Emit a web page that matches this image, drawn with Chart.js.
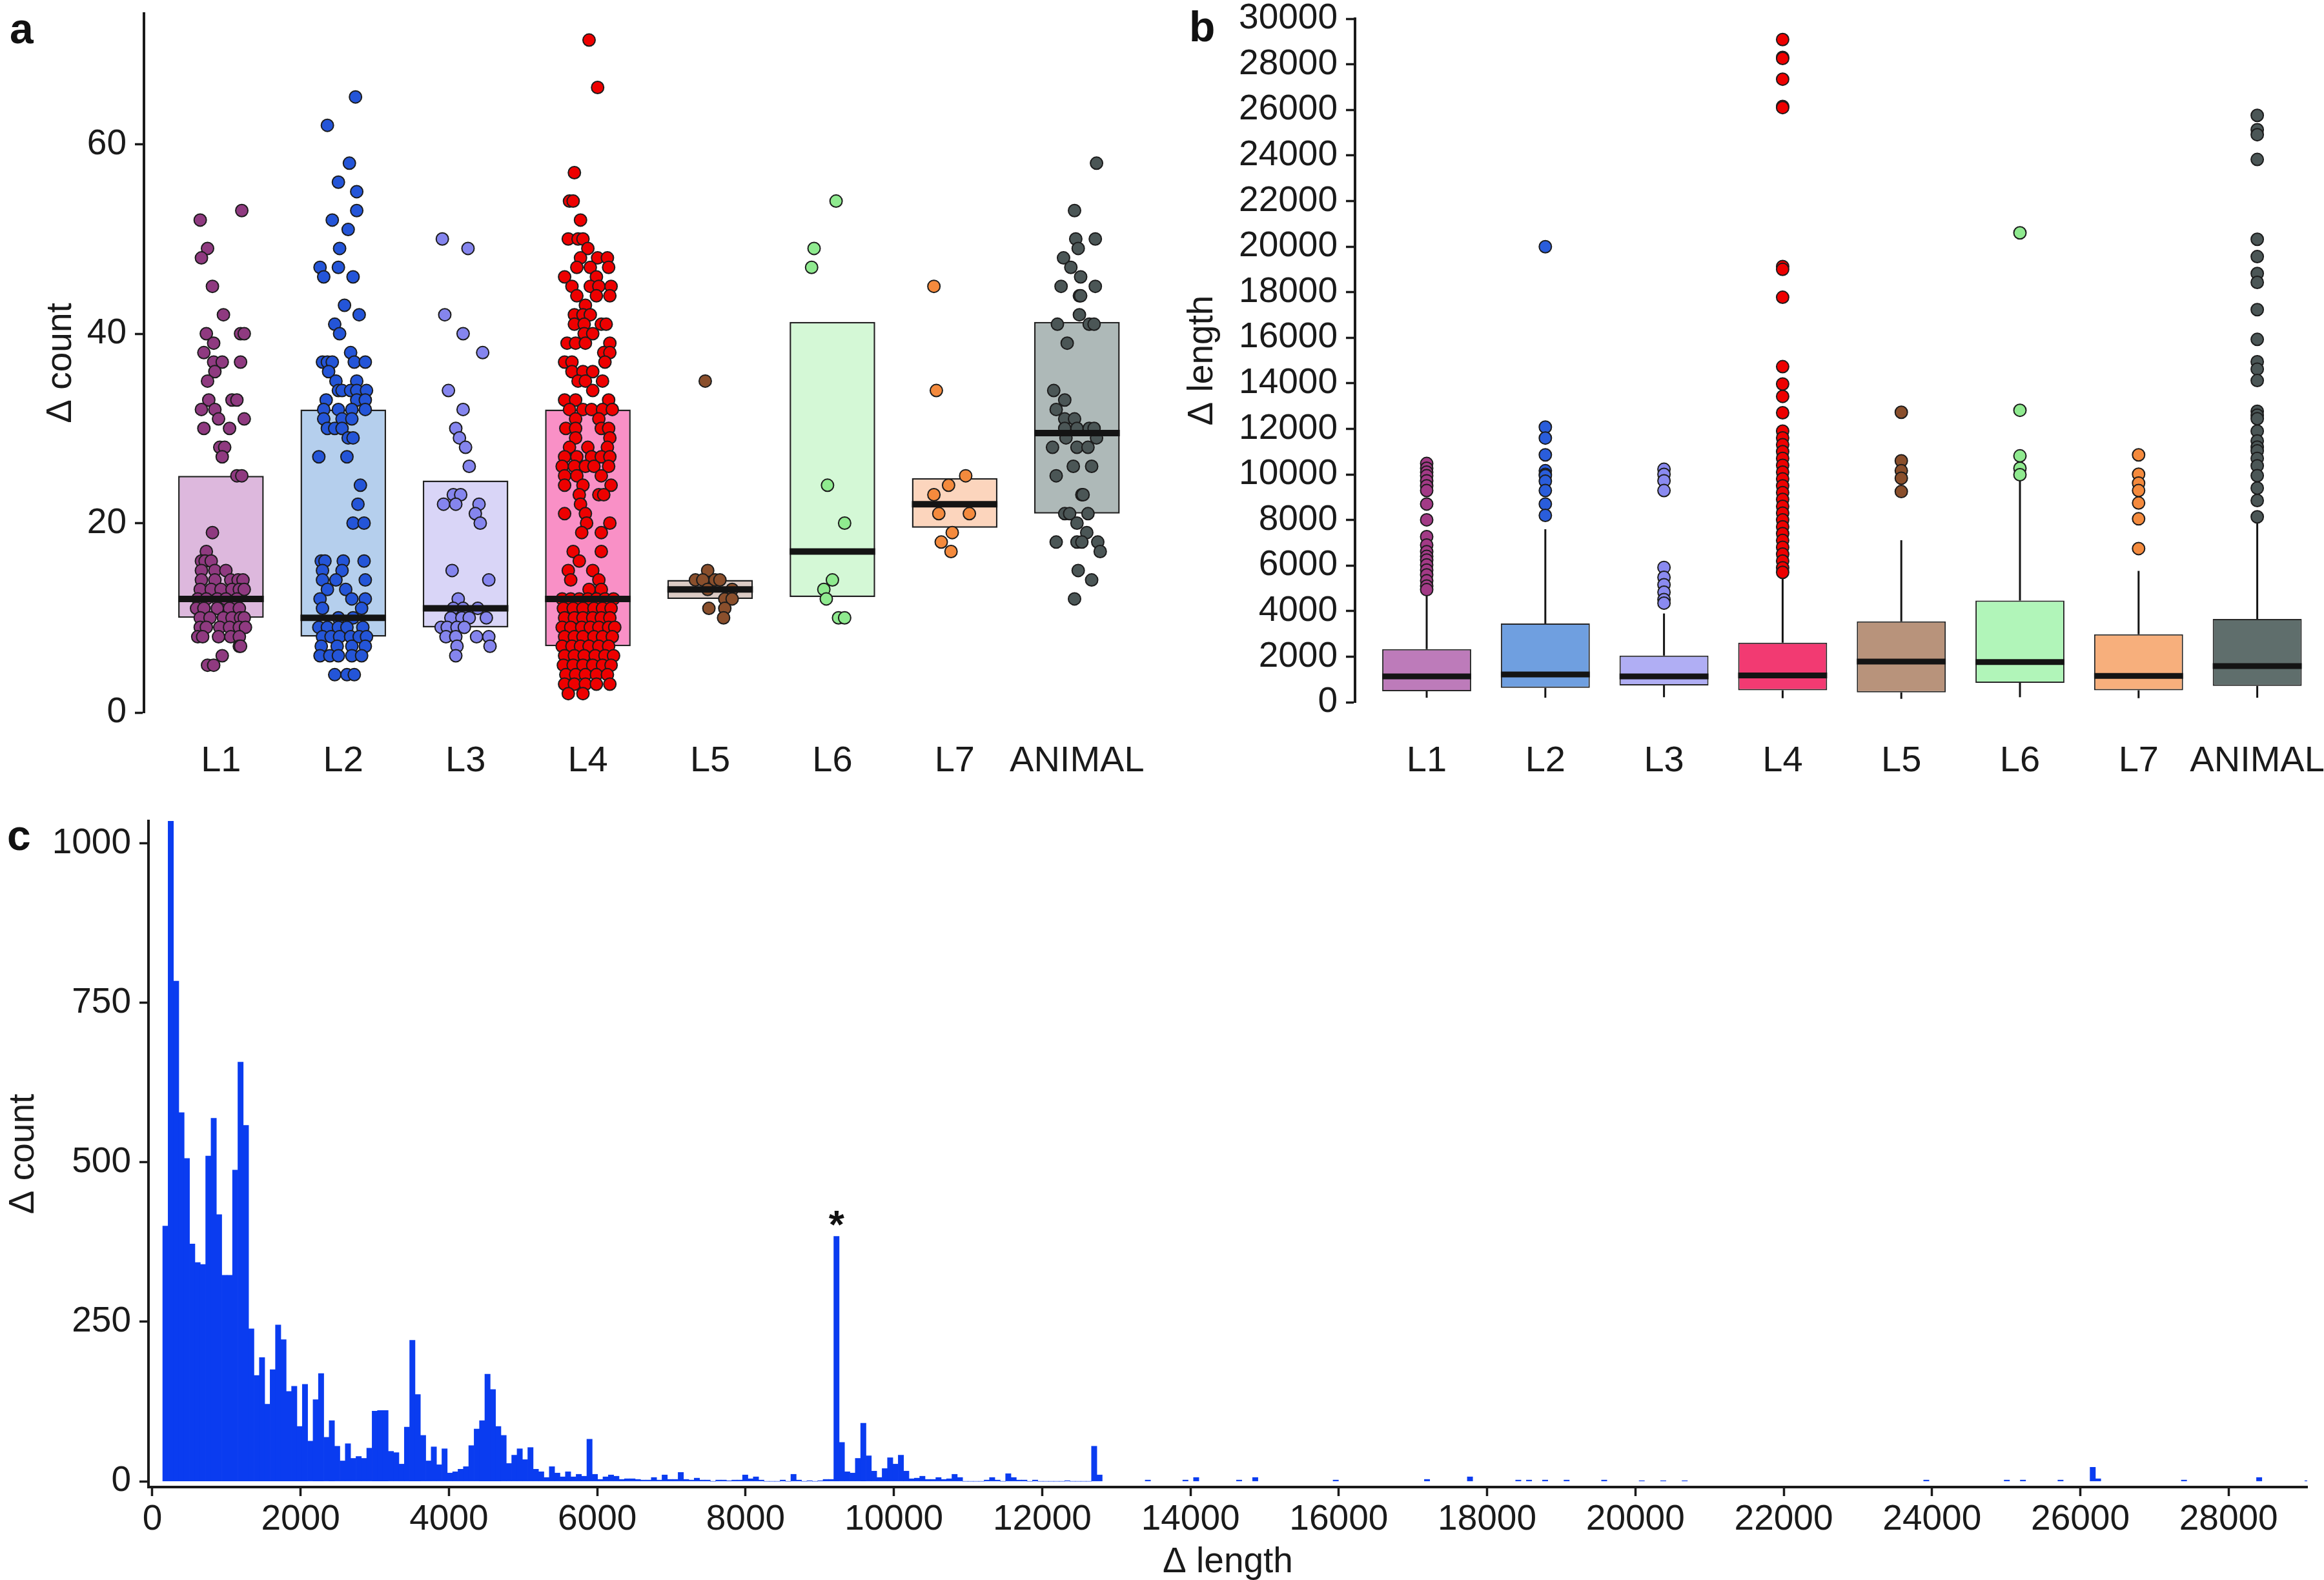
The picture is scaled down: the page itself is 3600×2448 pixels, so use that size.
<!DOCTYPE html>
<html><head><meta charset="utf-8">
<script src="https://cdn.jsdelivr.net/npm/chart.js@4.4.1/dist/chart.umd.min.js"></script>
<style>
html,body{margin:0;padding:0;background:#fff;}
#wrap{position:relative;width:3600px;height:2448px;background:#fff;overflow:hidden;font-family:"Liberation Sans",Arial,sans-serif;}
canvas{position:absolute;}
.lbl{position:absolute;font-weight:bold;font-size:66px;line-height:1;color:#111;}
</style></head><body>
<div id="wrap">
<canvas id="ca" width="1790" height="1240" style="left:0;top:0;width:1790px;height:1240px"></canvas>
<canvas id="cb" width="1810" height="1240" style="left:1790px;top:0;width:1810px;height:1240px"></canvas>
<canvas id="cc" width="3600" height="1208" style="left:0;top:1240px;width:3600px;height:1208px"></canvas>
<div class="lbl" style="left:15px;top:11px">a</div>
<div class="lbl" style="left:1842px;top:8px">b</div>
<div class="lbl" style="left:11px;top:1261px">c</div>
</div>
<script>
// ---------------- DATA ----------------
const categories = ['L1','L2','L3','L4','L5','L6','L7','ANIMAL'];

// Panel a: box statistics (Δ count)
const q1A  = [10, 8, 9, 7, 12, 12.2, 19.5, 21];
const medA = [12, 10, 11, 12, 13, 17, 22, 29.5];
const q3A  = [25, 32, 24.5, 32, 14, 41.25, 24.75, 41.25];
const yTicksA = [0, 20, 40, 60];

// Panel a: strip points, each row = [value, jitter offsets...]
const stripL1 = [[53,0.17],[52,-0.17],[49,-0.11],[48,-0.16],[45,-0.07],[42,0.02],[40,-0.12,0.16,0.19],[39,-0.06],[38,-0.14],[37,-0.06,0.01,0.16],[36,-0.05],[35,-0.11],[33,-0.10,0.09,0.13],[32,-0.16,-0.05],[31,-0.02,0.19],[30,-0.14,0.07],[28,-0.01,0.03],[27,0.01],[25,0.13,0.17],[19,-0.07],[17,-0.12],[16,-0.16,-0.13,-0.08],[15,-0.16,-0.05,0.04],[14,-0.16,-0.05,0.08,0.14,0.18],[13,-0.17,-0.08,0,0.09,0.15,0.19],[12,-0.19,-0.12,-0.03,0.04,0.13],[11,-0.20,-0.14,-0.03,0.07,0.15],[10,-0.17,-0.09,0.02,0.09,0.16,0.19],[9,-0.17,-0.12,-0.01,0.07,0.15,0.20],[8,-0.19,-0.15,-0.02,0.08,0.15],[7,0.15,0.16],[6,0.01],[5,-0.11,-0.06]];
const stripL2 = [[65,0.10],[62,-0.13],[58,0.05],[56,-0.04],[55,0.11],[53,0.11],[52,-0.09],[51,0.04],[49,-0.03],[47,-0.19,-0.04],[46,-0.16,0.08],[43,0.01],[42,0.13],[41,-0.07],[40,-0.03],[38,0.06],[37,-0.17,-0.13,-0.09,0.09,0.18],[36,-0.12],[35,-0.06,0.11],[34,-0.04,-0.01,0.06,0.11,0.19],[33,-0.14,0.11,0.18],[32,-0.16,-0.04,0.07,0.18],[31,-0.16,-0.01,0.07],[30,-0.13,-0.07,-0.01],[29,0.04,0.08],[27,-0.20,0.03],[24,0.14],[22,0.12],[20,0.08,0.17],[16,-0.18,-0.15,0,0.17],[15,-0.17,-0.01],[14,-0.17,-0.06,0.18],[13,-0.13,0.02],[12,-0.19,0.07,0.18],[11,-0.17,0.15],[10,-0.04,0.08],[9,-0.20,-0.13,-0.04,0.03,0.16],[8,-0.17,-0.10,-0.03,0.06,0.13,0.19],[7,-0.18,-0.05,0.07,0.18],[6,-0.19,-0.11,-0.04,0.07,0.15],[4,-0.07,0.03,0.09]];
const stripL3 = [[50,-0.19],[49,0.02],[42,-0.17],[40,-0.02],[38,0.14],[34,-0.14],[32,-0.02],[30,-0.08],[29,-0.05],[28,0],[26,0.03],[23,-0.10,-0.04],[22,-0.18,-0.08,0.11],[21,0.08],[20,0.12],[15,-0.11],[14,0.19],[12,-0.06],[11,-0.10,-0.02,0.10],[10,-0.12,-0.03,0.03,0.17],[9,-0.20,-0.15,-0.07,-0.01],[8,-0.16,-0.08,0.09,0.19],[7,-0.07,0.20],[6,-0.08]];
const stripL4 = [[71,0.01],[66,0.08],[57,-0.11],[54,-0.15,-0.12],[52,-0.06],[50,-0.16,-0.08,-0.04],[49,0.00],[48,-0.06,0.08,0.16],[47,-0.09,0.02,0.17],[46,-0.19,0.07],[45,-0.13,0.02,0.09,0.19],[44,-0.09,0.07,0.18],[43,-0.02],[42,-0.11,-0.04,0.02],[41,-0.11,-0.03,0.11,0.15],[40,-0.03,0.04],[39,-0.17,-0.10,-0.02,0.18],[38,0.13,0.18],[37,-0.19,-0.13,0.14],[36,-0.13,-0.04,0.04],[35,-0.08,-0.02,0.12],[34,0.04],[33,-0.19,-0.10,0.17],[32,-0.15,-0.04,0.03,0.12,0.20],[31,-0.10,0.09],[30,-0.18,-0.10,0.11,0.17],[29,-0.10,0.18],[28,-0.15,0,0.16],[27,-0.19,-0.09,0.03,0.11,0.18],[26,-0.21,-0.11,-0.02,0.05,0.17],[25,-0.19,-0.09,0.11],[24,-0.19,-0.04,0.19],[23,-0.07,0.09,0.13],[22,-0.06],[21,-0.19,-0.02],[20,-0.01,0.18],[19,-0.05,0.11],[17,-0.12,0.11],[16,-0.07],[15,-0.16,0.04],[14,-0.14,0.09],[13,0.01,0.11],[12,-0.21,-0.14,-0.07,0,0.07,0.14,0.21],[11,-0.20,-0.12,-0.04,0.05,0.12,0.19],[10,-0.19,-0.11,-0.04,0.04,0.11,0.18],[9,-0.21,-0.14,-0.05,0.02,0.09,0.17,0.22],[8,-0.19,-0.11,-0.04,0.05,0.12,0.20],[7,-0.21,-0.13,-0.06,0.01,0.09,0.17],[6,-0.19,-0.11,-0.03,0.06,0.14,0.21],[5,-0.20,-0.12,-0.04,0.04,0.12,0.19],[4,-0.18,-0.10,-0.02,0.07,0.16],[3,-0.19,-0.11,-0.02,0.07,0.18],[2,-0.16,-0.04]];
const stripL5 = [[35,-0.04],[15,-0.02],[14,-0.12,-0.06,0.04,0.08],[13,-0.02,0.18],[12,0.12,0.18],[11,-0.01,0.12],[10,0.11]];
const stripL6 = [[54,0.03],[49,-0.15],[47,-0.17],[24,-0.04],[20,0.10],[14,0],[13,-0.07],[12,-0.05],[10,0.05,0.10]];
const stripL7 = [[45,-0.17],[34,-0.15],[25,0.09],[24,-0.05],[23,-0.17],[21,-0.13,0.12],[19,-0.02],[18,-0.11],[17,-0.03]];
const stripAN = [[58,0.16],[53,-0.02],[50,-0.01,0.15],[49,0.01],[48,-0.11],[47,-0.05],[46,0.03],[45,-0.13,0.15],[44,0.02,0.03],[42,0.02],[41,-0.16,0.10,0.14],[39,-0.08],[34,-0.19],[33,-0.10],[32,-0.17],[31,-0.10,-0.02],[30,-0.10,0.00,0.10,0.14],[29,-0.09,0.16],[28,-0.20,0.00,0.09],[26,-0.03,0.12],[25,-0.17],[23,0.04,0.05],[21,-0.10,-0.06,0.09],[20,0.00],[19,0.08],[18,-0.17,0.00,0.04,0.17],[17,0.19],[15,0.01],[14,0.12],[12,-0.02]];
const stripsA = [stripL1, stripL2, stripL3, stripL4, stripL5, stripL6, stripL7, stripAN];

// Panel b: box statistics (Δ length)
const loB  = [200, 200, 220, 180, 150, 220, 180, 200];
const q1B  = [479, 631, 740, 522, 435, 848, 522, 718];
const medB = [1131, 1218, 1131, 1175, 1784, 1762, 1153, 1588];
const q3B  = [2328, 3459, 2045, 2611, 3546, 4459, 2980, 3655];
const hiB  = [4900, 7592, 3894, 5590, 7113, 9723, 5765, 7875];
const outL1 = [10480,10270,10100,9940,9720,9500,9290,8700,8005,7265,6900,6610,6400,6240,6030,5800,5590,5330,5100,4940];
const outL2 = [19993,12074,11596,10856,10160,10000,9940,9700,9290,8700,8201];
const outL3 = [10225,10000,9720,9290,5917,5482,5156,4830,4503,4350];
const outL4 = [29086,28300,28259,27346,26150,26100,19123,19000,17774,14728,13967,13423,12705,11900,11600,11300,11000,10700,10400,10100,9800,9500,9200,8900,8600,8300,8000,7700,7400,7100,6800,6500,6200,5900,5700];
const outL5 = [12727,10594,10160,9833,9246];
const outL6 = [20602,12814,10812,10268,9985];
const outL7 = [10856,10007,9616,9290,8744,8049,6744];
const outAN = [25758,25127,24910,23822,20319,19558,18819,18427,17231,15926,14946,14620,14120,12770,12600,12444,11900,11466,11200,11031,10700,10378,9942,9398,8854,8136];
const outliersB = [outL1, outL2, outL3, outL4, outL5, outL6, outL7, outAN];
const yTicksB = [0,2000,4000,6000,8000,10000,12000,14000,16000,18000,20000,22000,24000,26000,28000,30000];

// Panel c: histogram of Δ length
const histStart = 140;
const histBinWidth = 72.4;
const histCounts = [
 400,1035,784,578,506,372,343,340,510,569,
 418,323,323,488,657,558,239,166,194,121,
 175,245,222,141,149,86,152,63,128,169,
 69,95,55,32,59,36,39,36,52,110,
 111,111,47,45,27,85,221,136,72,32,
 54,26,51,13,15,19,23,56,82,95,
 168,144,86,72,28,41,51,34,53,19,
 15,6,23,13,7,15,7,11,8,66,
 11,3,7,10,8,3,4,4,3,2,
 2,6,2,10,3,3,14,3,2,5,
 2,2,0,2,2,1,2,2,10,4,
 7,2,0,0,0,2,0,11,2,0,
 1,0,1,3,3,384,61,15,13,36,
 91,40,16,6,20,37,27,41,16,4,
 5,8,3,3,6,3,4,11,6,0,
 0,0,0,2,6,2,0,12,6,2,
 2,0,2,0,0,0,0,0,1,0,
 0,0,0,55,10];
const histTail = [[183,2],[190,2],[192,6],[200,2],[203,6],[218,2],[235,3],[243,7],[252,2],[254,2],[257,2],[261,2],[268,2],[275,1],[279,1],[283,1],[328,2],[343,2],[346,2],[353,2],[359,22],[360,4],[376,2],[390,6],[399,1]];
const starBin = 125;
const xTicksC = [0,2000,4000,6000,8000,10000,12000,14000,16000,18000,20000,22000,24000,26000,28000];
const yTicksC = [0,250,500,750,1000];

// ---------------- STYLE ----------------
const boxFillA = ['#ddb8dd','#b5cfed','#d9d5f7','#f990c6','#dccbc4','#d4f8d6','#fcd5bd','#aeb9b8'];
const pointColA = ['#8f3a80','#2455d8','#8585ee','#ee0000','#8a4f2c','#8fea8f','#f48a3d','#4b5656'];
const boxFillB = ['#bd7bba','#6f9fe0','#b0aef4','#f23a72','#b8937b','#b1f5b9','#f7af7c','#5f6e6c'];
const outColB = ['#a23a86','#2a5ddb','#8a8af0','#ee0000','#8a4f2c','#8fea8f','#f48a3d','#4b5656'];
const INK = '#1a1a1a';
const FAM = '"Liberation Sans", Arial, Helvetica, sans-serif';

Chart.defaults.font.family = FAM;
Chart.defaults.color = INK;
Chart.defaults.animation = false;

function medianPlugin(meds, lw) {
  return { id: 'medians', afterDatasetsDraw(chart) {
    const meta = chart.getDatasetMeta(0), ys = chart.scales.y, ctx = chart.ctx;
    ctx.save(); ctx.strokeStyle = '#141414'; ctx.lineWidth = lw; ctx.lineCap = 'butt';
    meta.data.forEach((el, i) => {
      const p = el.getProps(['x','width'], true);
      const y = ys.getPixelForValue(meds[i]);
      ctx.beginPath(); ctx.moveTo(p.x - p.width/2, y); ctx.lineTo(p.x + p.width/2, y); ctx.stroke();
    });
    ctx.restore();
  }};
}
function whiskerPlugin(lo, q1, q3, hi) {
  return { id: 'whiskers', beforeDatasetsDraw(chart) {
    const meta = chart.getDatasetMeta(0), ys = chart.scales.y, ctx = chart.ctx;
    ctx.save(); ctx.strokeStyle = '#141414'; ctx.lineWidth = 3;
    meta.data.forEach((el, i) => {
      const x = el.getProps(['x'], true).x;
      ctx.beginPath();
      ctx.moveTo(x, ys.getPixelForValue(hi[i])); ctx.lineTo(x, ys.getPixelForValue(q3[i]));
      ctx.moveTo(x, ys.getPixelForValue(q1[i])); ctx.lineTo(x, ys.getPixelForValue(lo[i]));
      ctx.stroke();
    });
    ctx.restore();
  }};
}
const starPlugin = { id: 'star', afterDatasetsDraw(chart) {
  const xs = chart.scales.x, ys = chart.scales.y, ctx = chart.ctx;
  const xv = histStart + (starBin + 0.5) * histBinWidth;
  ctx.save(); ctx.font = 'bold 62px ' + FAM; ctx.fillStyle = '#111';
  ctx.textAlign = 'center'; ctx.textBaseline = 'alphabetic';
  ctx.fillText('*', xs.getPixelForValue(xv), ys.getPixelForValue(histCounts[starBin]) + 2);
  ctx.restore();
}};

function catAxis(minV, h, pad) {
  return {
    type: 'linear', min: minV, max: 7.5, offset: false,
    afterBuildTicks: s => { s.ticks = categories.map((c, i) => ({ value: i })); },
    ticks: { callback: v => categories[v], font: { size: 56 }, padding: pad, autoSkip: false, maxRotation: 0, minRotation: 0 },
    grid: { display: false, drawTicks: false, offset: false }, border: { display: false },
    afterFit: s => { s.height = h; s.paddingLeft = 0; s.paddingRight = 0; }
  };
}
function valAxis(minV, maxV, tickVals, w, titleText, titlePad, tickFont, borderW) {
  return {
    min: minV, max: maxV,
    afterBuildTicks: s => { s.ticks = tickVals.map(v => ({ value: v })); },
    ticks: { callback: v => String(v), font: { size: tickFont }, padding: 13, autoSkip: false },
    grid: { display: true, drawOnChartArea: false, drawTicks: true, tickLength: 14, tickWidth: 3.5, tickColor: INK },
    border: { display: true, color: INK, width: borderW },
    title: { display: true, text: titleText, font: { size: 55 }, color: INK, padding: { top: titlePad, bottom: 0 } },
    afterFit: s => { s.width = w; s.paddingTop = 0; s.paddingBottom = 0; }
  };
}

// ---------------- PANEL A ----------------
const dsA = [{
  type: 'bar',
  data: categories.map((c, i) => ({ x: i, y: [q1A[i], q3A[i]] })),
  backgroundColor: boxFillA, borderColor: '#222', borderWidth: 2.5, borderSkipped: false,
  barPercentage: 0.7, categoryPercentage: 1, order: 10
}].concat(stripsA.map((rows, g) => ({
  type: 'scatter',
  data: rows.flatMap(r => r.slice(1).map(o => ({ x: g + o, y: r[0] }))),
  backgroundColor: pointColA[g], borderColor: '#1c1c1c', borderWidth: 2, pointRadius: 9.5, order: 1
})));
new Chart(document.getElementById('ca'), {
  type: 'scatter',
  data: { datasets: dsA },
  options: {
    responsive: false, devicePixelRatio: 1, animation: false,
    layout: { padding: { left: 0, top: 21, right: 27, bottom: 0 } },
    plugins: { legend: { display: false }, tooltip: { enabled: false } },
    scales: {
      x: catAxis(-0.63, 136, 42),
      y: valAxis(0, 73.8, yTicksA, 223, 'Δ count', 62, 55, 4)
    }
  },
  plugins: [medianPlugin(medA, 10)]
});

// ---------------- PANEL B ----------------
const dsB = [{
  type: 'bar',
  data: categories.map((c, i) => ({ x: i, y: [q1B[i], q3B[i]] })),
  backgroundColor: boxFillB, borderColor: '#262626', borderWidth: 2, borderSkipped: false,
  barPercentage: 0.75, categoryPercentage: 1, order: 10
}].concat(outliersB.map((vals, g) => ({
  type: 'scatter',
  data: vals.map(v => ({ x: g, y: v })),
  backgroundColor: outColB[g], borderColor: '#1c1c1c', borderWidth: 2, pointRadius: 9.5, order: 1
})));
new Chart(document.getElementById('cb'), {
  type: 'scatter',
  data: { datasets: dsB },
  options: {
    responsive: false, devicePixelRatio: 1, animation: false,
    layout: { padding: { left: 0, top: 29, right: 11, bottom: 0 } },
    plugins: { legend: { display: false }, tooltip: { enabled: false } },
    scales: {
      x: catAxis(-0.604, 152, 58),
      y: valAxis(0, 30000, yTicksB, 309, 'Δ length', 40, 55, 4)
    }
  },
  plugins: [whiskerPlugin(loB, q1B, q3B, hiB), medianPlugin(medB, 9)]
});

// ---------------- PANEL C ----------------
const histData = histCounts.map((c, i) => ({ x: histStart + (i + 0.5) * histBinWidth, y: c }))
  .concat(histTail.map(([i, c]) => ({ x: histStart + (i + 0.5) * histBinWidth, y: c })));
new Chart(document.getElementById('cc'), {
  type: 'bar',
  data: { datasets: [{
    data: histData, backgroundColor: '#0a3cf0', borderWidth: 0,
    barPercentage: 1, categoryPercentage: 1
  }] },
  options: {
    responsive: false, devicePixelRatio: 1, animation: false,
    layout: { padding: { left: 0, top: 32, right: 26, bottom: 0 } },
    plugins: { legend: { display: false }, tooltip: { enabled: false } },
    scales: {
      x: {
        type: 'linear', min: -52, max: 29060, offset: false,
        afterBuildTicks: s => { s.ticks = xTicksC.map(v => ({ value: v })); },
        ticks: { callback: v => String(v), font: { size: 55 }, padding: 4, autoSkip: false, maxRotation: 0, minRotation: 0 },
        grid: { display: true, drawOnChartArea: false, drawTicks: true, tickLength: 14, tickWidth: 3.5, tickColor: INK, offset: false },
        border: { display: true, color: INK, width: 4 },
        title: { display: true, text: 'Δ length', font: { size: 55 }, color: INK, padding: { top: 0, bottom: -6 } },
        afterFit: s => { s.height = 144; s.paddingLeft = 0; s.paddingRight = 0; }
      },
      y: valAxis(-9, 1035, yTicksC, 230, 'Δ count', 4, 55, 4)
    }
  },
  plugins: [starPlugin]
});
</script>
</body></html>
